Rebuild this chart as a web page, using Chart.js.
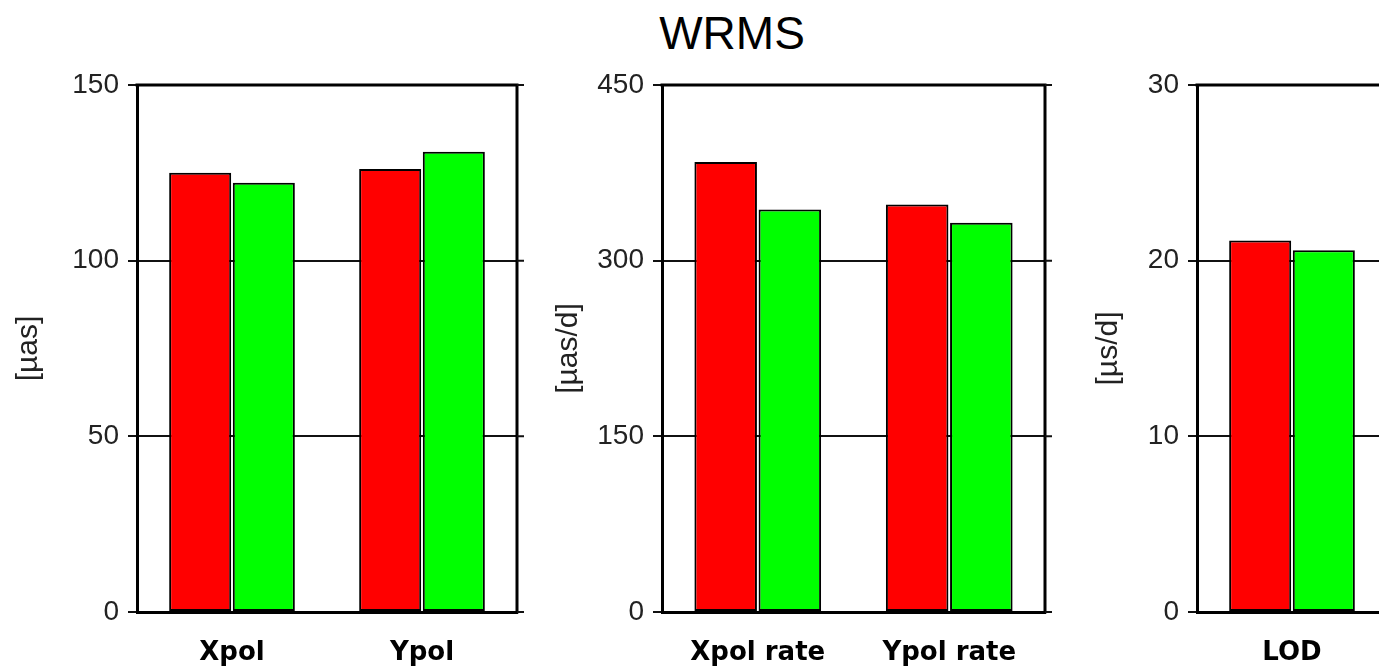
<!DOCTYPE html>
<html>
<head>
<meta charset="utf-8">
<script src="https://cdn.jsdelivr.net/npm/chart.js@4.4.1/dist/chart.umd.min.js"></script>
<style>
  html, body { margin: 0; padding: 0; background: #fff; width: 1379px; height: 669px; overflow: hidden; }
  #wrap { position: relative; width: 1379px; height: 669px; overflow: hidden; }
  canvas { position: absolute; top: 0; }
  #title {
    position: absolute; left: 532px; top: 10px; width: 400px; text-align: center;
    font-family: "Liberation Sans", Arial, sans-serif; font-size: 46px; line-height: 46px; color: #000;
  }
</style>
</head>
<body>
<div id="wrap">
  <div id="title">WRMS</div>
  <canvas id="c1" width="540" height="669" style="left:0px"></canvas>
  <canvas id="c2" width="540" height="669" style="left:540px"></canvas>
  <canvas id="c3" width="320" height="669" style="left:1080px"></canvas>
</div>
<script>
// Polar motion offsets
const posCategories = ['Xpol', 'Ypol'];
const posRed = [125.0, 126.1];
const posGreen = [122.2, 131.0];
const posTicks = [0, 50, 100, 150];
const posUnit = '[µas]';

// Polar motion rates
const rateCategories = ['Xpol rate', 'Ypol rate'];
const rateRed = [384.3, 347.9];
const rateGreen = [343.6, 332.4];
const rateTicks = [0, 150, 300, 450];
const rateUnit = '[µas/d]';

// Length of day
const lodCategories = ['LOD'];
const lodRed = [21.15];
const lodGreen = [20.6];
const lodTicks = [0, 10, 20, 30];
const lodUnit = '[µs/d]';

const RED = '#ff0000';
const GREEN = '#00ff00';
const CANVAS_H = 669;
const PLOT_TOP = 85;
const PLOT_BOTTOM = 612;

// Top and right edges of the box, plus outward tick marks on the right side
const framePlugin = {
  id: 'frame',
  afterDraw(chart) {
    const { ctx, chartArea: a, scales: { y } } = chart;
    ctx.save();
    ctx.strokeStyle = '#000';
    ctx.lineWidth = 3;
    ctx.beginPath();
    ctx.moveTo(a.left - 1.5, a.top);
    ctx.lineTo(a.right, a.top);
    ctx.lineTo(a.right, a.bottom + 1.5);
    ctx.stroke();
    ctx.strokeStyle = '#111';
    ctx.lineWidth = 2;
    ctx.beginPath();
    y.ticks.forEach(t => {
      const py = y.getPixelForValue(t.value);
      ctx.moveTo(a.right, py);
      ctx.lineTo(a.right + 7, py);
    });
    ctx.stroke();
    ctx.restore();
  }
};

function makePanel(id, categories, red, green, ticks, unit, plotLeft, plotRight) {
  const canvas = document.getElementById(id);
  const width = canvas.width;
  return new Chart(canvas, {
    type: 'bar',
    data: {
      labels: categories,
      datasets: [
        { data: red, backgroundColor: RED, borderColor: '#000', borderWidth: 2, borderSkipped: false },
        { data: green, backgroundColor: GREEN, borderColor: '#000', borderWidth: 2, borderSkipped: false }
      ]
    },
    options: {
      responsive: false,
      animation: false,
      events: [],
      layout: { padding: { top: PLOT_TOP, right: width - plotRight, bottom: 0, left: 0 } },
      plugins: { legend: { display: false }, title: { display: false }, tooltip: { enabled: false } },
      datasets: { bar: { categoryPercentage: 0.67, barPercentage: 0.975 } },
      scales: {
        x: {
          z: 1,
          offset: true,
          grid: { display: false, drawTicks: false },
          border: { display: true, color: '#000', width: 3 },
          ticks: {
            padding: 26,
            color: '#000',
            maxRotation: 0,
            font: { family: '"DejaVu Sans", sans-serif', size: 26, weight: 'bold' }
          },
          afterFit(scale) { scale.height = CANVAS_H - PLOT_BOTTOM; }
        },
        y: {
          z: 1,
          min: ticks[0],
          max: ticks[ticks.length - 1],
          grid: { color: '#111', lineWidth: 2, tickLength: 9, tickColor: '#111', tickWidth: 2 },
          border: { display: true, color: '#000', width: 3 },
          ticks: {
            stepSize: ticks[1] - ticks[0],
            padding: 9,
            color: '#222',
            font: { family: '"Liberation Sans", Arial, sans-serif', size: 28 }
          },
          title: {
            display: true,
            text: unit,
            color: '#222',
            padding: { top: 11, bottom: 0 },
            font: { family: '"Liberation Sans", Arial, sans-serif', size: 30 }
          },
          afterFit(scale) { scale.width = plotLeft; }
        }
      }
    },
    plugins: [framePlugin]
  });
}

makePanel('c1', posCategories, posRed, posGreen, posTicks, posUnit, 137, 517);
makePanel('c2', rateCategories, rateRed, rateGreen, rateTicks, rateUnit, 122, 505);
makePanel('c3', lodCategories, lodRed, lodGreen, lodTicks, lodUnit, 117, 307);
</script>
</body>
</html>
